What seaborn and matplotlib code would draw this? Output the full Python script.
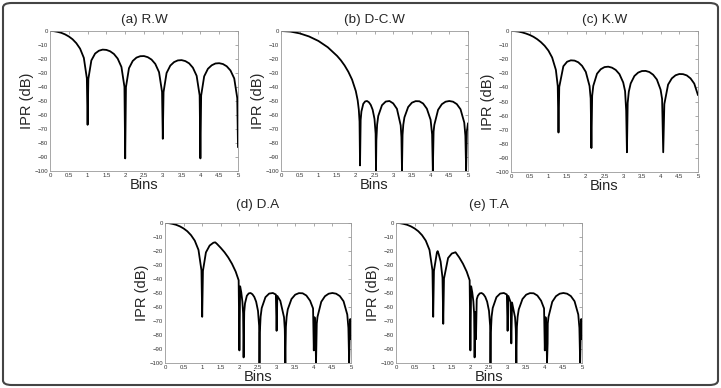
import matplotlib
matplotlib.use("Agg")
import matplotlib.pyplot as plt
import pandas as pd
import seaborn as sns
from matplotlib.patches import FancyBboxPatch

sns.set_theme(style="white")
plt.rcParams['font.family'] = ['Liberation Sans', 'DejaVu Sans']

# values (Bins, IPR in dB)
x_rw = [0, 0.1, 0.2, 0.3, 0.4, 0.5, 0.6, 0.7, 0.8, 0.9, 0.98, 1.0, 1.02, 1.1, 1.2, 1.3, 1.4, 1.5, 1.6, 1.7,
        1.8, 1.9, 1.98, 2.0, 2.02, 2.1, 2.2, 2.3, 2.4, 2.5, 2.6, 2.7, 2.8, 2.9, 2.98, 3.0, 3.02, 3.1, 3.2, 3.3,
        3.4, 3.5, 3.6, 3.7, 3.8, 3.9, 3.98, 4.0, 4.02, 4.1, 4.2, 4.3, 4.4, 4.5, 4.6, 4.7, 4.8, 4.9, 4.98, 5.0]
y_rw = [0, -0.1, -0.6, -1.3, -2.4, -3.9, -5.9, -8.7, -12.6, -19.2, -33.8, -67, -34.2, -21.0, -16.1, -14.1,
        -13.3, -13.5, -14.5, -16.4, -19.7, -25.7, -39.9, -91, -40.1, -26.6, -21.4, -19.0, -18.0, -17.9, -18.7,
        -20.4, -23.5, -29.4, -43.5, -77, -43.6, -30.0, -24.7, -22.2, -21.0, -20.8, -21.5, -23.1, -26.2, -32.0,
        -46.0, -91, -46.1, -32.4, -27.0, -24.5, -23.2, -23.0, -23.6, -25.2, -28.2, -33.9, -47.9, -83]

x_dcw = [0, 0.25, 0.5, 0.75, 1.0, 1.25, 1.5, 1.6, 1.7, 1.8, 1.9, 2.0, 2.05, 2.08, 2.1, 2.113, 2.13, 2.15, 2.2,
         2.25, 2.3, 2.35, 2.4, 2.45, 2.5, 2.53, 2.54, 2.55, 2.57, 2.6, 2.7, 2.8, 2.9, 3.0, 3.1, 3.2, 3.22, 3.235,
         3.25, 3.27, 3.3, 3.4, 3.5, 3.6, 3.7, 3.8, 3.9, 4.0, 4.04, 4.06, 4.08, 4.1, 4.2, 4.3, 4.4, 4.5, 4.6, 4.7,
         4.8, 4.9, 4.93, 4.95, 4.97, 5.0]
y_dcw = [0, -0.4, -1.7, -3.9, -7.1, -11.6, -17.8, -20.9, -24.6, -29.1, -34.7, -42.9, -49.5, -56.1, -64.7, -96,
         -63.5, -57.5, -52.0, -50.3, -50.0, -50.9, -52.8, -56.2, -62.8, -73.4, -100, -78.1, -66.9, -60.7, -53.0,
         -50.4, -50.0, -51.7, -55.6, -67.4, -75.9, -100, -74.2, -66.9, -61.7, -54.3, -51.2, -50.1, -50.2, -51.8,
         -55.5, -63.4, -73.8, -100, -71.8, -67.0, -56.3, -52.3, -50.5, -50.0, -50.5, -52.2, -55.9, -65.4, -74.9,
         -100, -71.6, -65.9]

x_kw = [0, 0.1, 0.2, 0.3, 0.4, 0.5, 0.6, 0.7, 0.8, 0.9, 1.0, 1.1, 1.2, 1.25, 1.27, 1.29, 1.4, 1.5, 1.6, 1.7,
        1.8, 1.9, 2.0, 2.1, 2.13, 2.15, 2.17, 2.2, 2.3, 2.4, 2.5, 2.6, 2.7, 2.8, 2.9, 3.0, 3.05, 3.08, 3.1, 3.12,
        3.15, 3.2, 3.3, 3.4, 3.5, 3.6, 3.7, 3.8, 3.9, 4.0, 4.04, 4.07, 4.1, 4.2, 4.3, 4.4, 4.5, 4.6, 4.7, 4.8,
        4.9, 5.0]
y_kw = [0, -0.1, -0.4, -1.0, -1.8, -2.8, -4.1, -5.8, -7.9, -10.5, -13.9, -18.8, -27.6, -39.1, -72, -39.7,
        -25.0, -21.8, -20.8, -21.0, -22.2, -24.7, -29.0, -39.0, -47.8, -83, -46.0, -38.9, -30.3, -27.1, -25.6,
        -25.3, -26.0, -27.6, -30.6, -36.5, -42.6, -56.5, -86, -51.0, -43.0, -37.2, -31.9, -29.5, -28.4, -28.3,
        -29.1, -31.0, -34.4, -41.6, -48.2, -86, -51.8, -38.0, -33.6, -31.4, -30.5, -30.6, -31.5, -33.6, -37.3,
        -45.5]

x_da = [0, 0.1, 0.2, 0.3, 0.4, 0.5, 0.6, 0.7, 0.8, 0.9, 0.98, 1.0, 1.02, 1.1, 1.2, 1.3, 1.35, 1.4, 1.5, 1.6,
        1.7, 1.8, 1.9, 1.98, 2.0, 2.02, 2.05, 2.08, 2.1, 2.113, 2.13, 2.15, 2.2, 2.25, 2.3, 2.35, 2.4, 2.45,
        2.5, 2.53, 2.54, 2.55, 2.57, 2.6, 2.7, 2.8, 2.9, 2.98, 3.0, 3.02, 3.1, 3.2, 3.22, 3.235, 3.25, 3.27,
        3.3, 3.4, 3.5, 3.6, 3.7, 3.8, 3.9, 3.98, 4.0, 4.02, 4.04, 4.06, 4.08, 4.1, 4.2, 4.3, 4.4, 4.5, 4.6,
        4.7, 4.8, 4.9, 4.93, 4.95, 4.97, 4.98, 5.0]
y_da = [0, -0.1, -0.6, -1.3, -2.4, -3.9, -5.9, -8.7, -12.6, -19.2, -33.8, -67, -34.2, -21.0, -16.1, -14.1,
        -13.8, -15.0, -17.8, -20.9, -24.6, -29.1, -34.7, -40.9, -91, -45.2, -49.5, -56.1, -64.7, -96, -63.5,
        -57.5, -52.0, -50.3, -50.0, -50.9, -52.8, -56.2, -62.8, -73.4, -100, -78.1, -66.9, -60.7, -53.0, -50.4,
        -50.0, -51.1, -77, -52.1, -55.6, -67.4, -75.9, -100, -74.2, -66.9, -61.7, -54.3, -51.2, -50.1, -50.2,
        -51.8, -55.5, -61.0, -91, -67.3, -73.8, -100, -71.8, -67.0, -56.3, -52.3, -50.5, -50.0, -50.5, -52.2,
        -55.9, -65.4, -74.9, -100, -71.6, -68.6, -83]

x_ta = [0, 0.1, 0.2, 0.3, 0.4, 0.5, 0.6, 0.7, 0.8, 0.9, 0.98, 1.0, 1.02, 1.1, 1.12, 1.15, 1.2, 1.25, 1.27,
        1.29, 1.4, 1.5, 1.6, 1.7, 1.8, 1.9, 1.98, 2.0, 2.02, 2.05, 2.08, 2.1, 2.113, 2.13, 2.15, 2.17, 2.2,
        2.25, 2.3, 2.35, 2.4, 2.45, 2.5, 2.53, 2.54, 2.55, 2.57, 2.6, 2.7, 2.8, 2.9, 2.98, 3.0, 3.02, 3.08,
        3.1, 3.12, 3.2, 3.22, 3.235, 3.25, 3.27, 3.3, 3.4, 3.5, 3.6, 3.7, 3.8, 3.9, 3.98, 4.0, 4.02, 4.04,
        4.06, 4.076, 4.08, 4.1, 4.2, 4.3, 4.4, 4.5, 4.6, 4.7, 4.8, 4.9, 4.93, 4.95, 4.97, 4.98, 5.0]
y_ta = [0, -0.1, -0.6, -1.3, -2.4, -3.9, -5.9, -8.7, -12.6, -19.2, -33.8, -67, -34.2, -21.0, -20.1, -22.4,
        -27.6, -39.1, -72, -39.7, -25.0, -21.8, -20.9, -24.6, -29.1, -34.7, -40.9, -91, -45.2, -49.5, -56.1,
        -64.7, -96, -63.5, -83, -54.5, -52.0, -50.3, -50.0, -50.9, -52.8, -56.2, -62.8, -73.4, -100, -78.1,
        -66.9, -60.7, -53.0, -50.4, -50.0, -51.1, -77, -52.1, -56.5, -86, -56.8, -67.4, -75.9, -100, -74.2,
        -66.9, -61.7, -54.3, -51.2, -50.1, -50.2, -51.8, -55.5, -61.0, -91, -67.3, -73.8, -100, -86, -71.8,
        -67.0, -56.3, -52.3, -50.5, -50.0, -50.5, -52.2, -55.9, -65.4, -74.9, -100, -71.6, -68.6, -83]

titles = ["(a) R.W", "(b) D-C.W", "(c) K.W", "(d) D.A", "(e) T.A"]
x_ticks = [0, 0.5, 1, 1.5, 2, 2.5, 3, 3.5, 4, 4.5, 5]
x_tick_labels = ["0", "0.5", "1", "1.5", "2", "2.5", "3", "3.5", "4", "4.5", "5"]
y_ticks = [0, -10, -20, -30, -40, -50, -60, -70, -80, -90, -100]

series = [(x_rw, y_rw), (x_dcw, y_dcw), (x_kw, y_kw), (x_da, y_da), (x_ta, y_ta)]

W, H = 721, 388
# axes boxes in pixels: left, top, right, bottom
boxes = [(50, 31, 238, 171), (281, 31, 468, 171), (511, 31, 698, 172),
         (165, 223, 351, 363), (396, 223, 582, 363)]

fig = plt.figure(figsize=(W / 100, H / 100), dpi=100)
fig.patch.set_facecolor("white")

for (xs, ys), title, (l, t, r, b) in zip(series, titles, boxes):
    ax = fig.add_axes([l / W, 1 - b / H, (r - l) / W, (b - t) / H])
    df = pd.DataFrame({"Bins": xs, "IPR (dB)": ys})
    sns.lineplot(data=df, x="Bins", y="IPR (dB)", ax=ax, color="black", linewidth=1.3,
                 estimator=None, sort=False)
    ax.set_xlim(0, 5)
    ax.set_ylim(-100, 0)
    ax.set_xticks(x_ticks)
    ax.set_xticklabels(x_tick_labels)
    ax.set_yticks(y_ticks)
    ax.tick_params(direction="in", length=2, width=0.5, color="#888888", top=True, right=True,
                   labelsize=4.3, labelcolor="#333333", pad=1.5)
    for sp in ax.spines.values():
        sp.set_color("#999999")
        sp.set_linewidth(0.6)
    ax.set_xlabel("Bins", fontsize=10.5, labelpad=0)
    ax.set_ylabel("IPR (dB)", fontsize=10.5, labelpad=0.5)
    cx = (l + r) / 2
    ty = t - 11 if t < 100 else t - 18
    fig.text(cx / W, 1 - ty / H, title, ha="center", va="center", fontsize=9.7)

border = FancyBboxPatch((3 / W, 3 / H), (W - 6) / W, (H - 6) / H,
                        boxstyle="round,pad=0,rounding_size=0.012", transform=fig.transFigure,
                        fill=False, edgecolor="#444444", linewidth=1.5)
fig.patches.append(border)

fig.savefig("out.png", dpi=100)
